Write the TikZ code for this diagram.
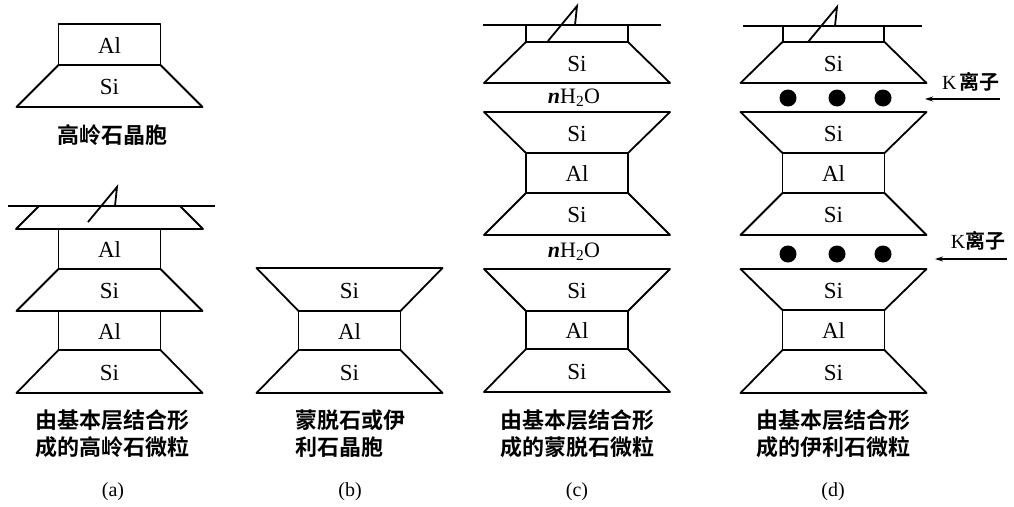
\documentclass[tikz,border=0pt]{standalone}
\usepackage{fontspec}
\setmainfont{Liberation Serif}
\newfontfamily\cjk{Noto Sans CJK SC}[BoldFont=* Bold]
\usetikzlibrary{arrows.meta}

% layer outlines: half widths of the narrow and the wide side
\def\nh{51}
\def\wh{93}

% Si sheet, narrow side up: centre x, top y, bottom y, node name
\newcommand{\SiUp}[4]{%
  \draw[layer] ({#1-\nh},#2) -- ({#1+\nh},#2) -- ({#1+\wh},#3) -- ({#1-\wh},#3) -- cycle;
  \node[elem] (#4) at (#1,{(#2+#3)/2+1}) {Si};}
% Si sheet, wide side up
\newcommand{\SiDown}[4]{%
  \draw[layer] ({#1-\wh},#2) -- ({#1+\wh},#2) -- ({#1+\nh},#3) -- ({#1-\nh},#3) -- cycle;
  \node[elem] (#4) at (#1,{(#2+#3)/2+1}) {Si};}
% Al sheet
\newcommand{\AlBox}[4]{%
  \draw[layer] ({#1-\nh},#2) rectangle ({#1+\nh},#3);
  \node[elem] (#4) at (#1,{(#2+#3)/2+1}) {Al};}
% break mark on the cut-off top of a stack: x where it meets the line, line y
\newcommand{\BreakMark}[2]{%
  \draw[layer, line join=miter] ({#1-27},{#2+16}) -- ({#1+2},{#2-19}) -- (#1,#2);}

\tikzset{
  layer/.style={line width=1.8pt, line join=round},
  elem/.style={inner sep=0pt, font=\fontsize{23}{23}\selectfont},
  caption/.style={inner sep=0pt, align=center, font=\cjk\bfseries\fontsize{22}{27}\selectfont},
  tag/.style={inner sep=0pt, font=\fontsize{20}{20}\selectfont},
  water/.style={inner sep=0pt, font=\fontsize{22}{22}\selectfont},
  ion/.style={inner sep=0pt, font=\fontsize{20}{20}\selectfont},
  kdot/.style={fill=black, draw=none},
  inarrow/.style={line width=1.2pt, -{Stealth[length=8pt,width=5pt]}}
}

\begin{document}
\begin{tikzpicture}[x=1pt,y=-1pt]
\useasboundingbox (0,0) rectangle (1014,506);

% ---------- (a) kaolinite ----------
\AlBox{109.5}{24}{65}{a-al0}
\SiUp{109.5}{65}{107}{a-si0}
\node[caption] (a-cell) at (112,135) {高岭石晶胞};

\draw[layer] (8,206) -- (215,206);
\draw[layer] (39,206) -- (16,229) -- (203,229) -- (180,206);
\BreakMark{115}{206}
\AlBox{109.5}{229}{269}{a-al1}
\SiUp{109.5}{269}{311}{a-si1}
\AlBox{109.5}{311}{350}{a-al2}
\SiUp{109.5}{350}{393}{a-si2}
\node[caption] (a-cap) at (112,433.5) {由基本层结合形\\成的高岭石微粒};
\node[tag] (a-tag) at (113,492) {(a)};

% ---------- (b) montmorillonite / illite cell ----------
\SiDown{349.5}{268}{311}{b-si1}
\AlBox{349.5}{311}{350}{b-al1}
\SiUp{349.5}{350}{393}{b-si2}
\node[caption, align=left] (b-cap) at (350,433.5) {蒙脱石或伊\\利石晶胞};
\node[tag] (b-tag) at (350,492) {(b)};

% ---------- (c) montmorillonite particle ----------
\draw[layer] (483,25) -- (661,25);
\draw[layer] (526,25) -- (526,42) -- (628,42) -- (628,25);
\BreakMark{575}{25}
\SiUp{577}{42}{83}{c-si0}
\node[water] (c-w1) at (574,98) {\textbf{\textit{n}}H\textsubscript{2}O};
\SiDown{577}{112}{153}{c-si1}
\AlBox{577}{153}{193}{c-al1}
\SiUp{577}{193}{235}{c-si2}
\node[water] (c-w2) at (574,252) {\textbf{\textit{n}}H\textsubscript{2}O};
\SiDown{577}{269}{311}{c-si3}
\AlBox{577}{311}{349}{c-al2}
\SiUp{577}{349}{392}{c-si4}
\node[caption] (c-cap) at (577,433.5) {由基本层结合形\\成的蒙脱石微粒};
\node[tag] (c-tag) at (577,492) {(c)};

% ---------- (d) illite particle ----------
\draw[layer] (743,26) -- (922,26);
\draw[layer] (783,26) -- (783,42) -- (884,42) -- (884,26);
\BreakMark{835}{26}
\SiUp{833.5}{42}{83}{d-si0}
\foreach \x in {788,837,883} \fill[kdot] (\x,98) circle (8.5);
\SiDown{833.5}{112}{153}{d-si1}
\AlBox{833.5}{153}{193}{d-al1}
\SiUp{833.5}{193}{235}{d-si2}
\foreach \x in {788,837,883} \fill[kdot] (\x,254) circle (8.5);
\SiDown{833.5}{269}{310}{d-si3}
\AlBox{833.5}{310}{350}{d-al2}
\SiUp{833.5}{350}{393}{d-si4}
\node[caption] (d-cap) at (833,433.5) {由基本层结合形\\成的伊利石微粒};
\node[tag] (d-tag) at (833,492) {(d)};

% K ions entering the interlayers
\node[ion] (k1) at (971,82) {K\,{\cjk\bfseries 离子}};
\coordinate (k1s) at (1000,99);
\coordinate (k1e) at (925,99);
\draw[inarrow] (k1s) -- (k1e);
\node[ion] (k2) at (978,241) {K{\cjk\bfseries 离子}};
\coordinate (k2s) at (1007,259);
\coordinate (k2e) at (935,259);
\draw[inarrow] (k2s) -- (k2e);
\end{tikzpicture}
\end{document}
